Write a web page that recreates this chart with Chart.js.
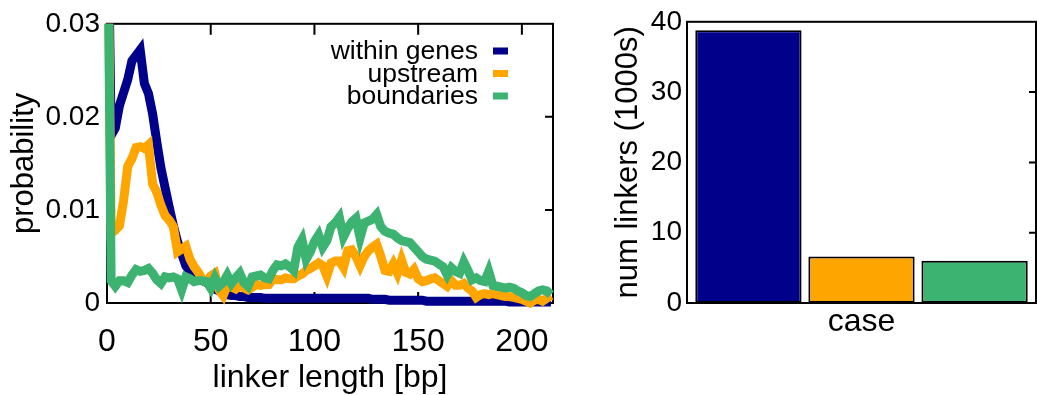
<!DOCTYPE html>
<html>
<head>
<meta charset="utf-8">
<script src="https://cdn.jsdelivr.net/npm/chart.js@4.4.1/dist/chart.umd.min.js"></script>
<style>
  html, body { margin: 0; padding: 0; background: #fff; }
  body { width: 1037px; height: 395px; position: relative; overflow: hidden; }
  canvas { position: absolute; top: 0; }
  #dist { left: 0; }
  #counts { left: 590px; }
</style>
</head>
<body>
<canvas id="dist" width="570" height="395"></canvas>
<canvas id="counts" width="447" height="395"></canvas>
<script>
// linker length (bp), x of the distribution plot
const lengths = [
  0, 2, 4, 6, 8, 10, 12, 14, 16, 18,
  20, 22, 24, 26, 28, 30, 32, 34, 36, 38,
  40, 42, 44, 46, 48, 50, 52, 54, 56, 58,
  60, 62, 64, 66, 68, 70, 72, 74, 76, 78,
  80, 82, 84, 86, 88, 90, 92, 94, 96, 98,
  100, 102, 104, 106, 108, 110, 112, 114, 116, 118,
  120, 122, 124, 126, 128, 130, 132, 134, 136, 138,
  140, 142, 144, 146, 148, 150, 152, 154, 156, 158,
  160, 162, 164, 166, 168, 170, 172, 174, 176, 178,
  180, 182, 184, 186, 188, 190, 192, 194, 196, 198,
  200, 202, 204, 206, 208, 210, 212, 214
]

const withinGenes = [
  0.05, 0.018, 0.0188, 0.0212, 0.0226, 0.0240, 0.0260, 0.0266, 0.0272, 0.0236,
  0.0225, 0.0203, 0.0173, 0.0145, 0.0124, 0.0103, 0.0083, 0.0066, 0.0053, 0.0040,
  0.0034, 0.0029, 0.0027, 0.0024, 0.0022, 0.0018, 0.0015, 0.0013, 0.0011, 0.0009,
  0.0008, 0.0008, 0.0007, 0.0007, 0.0006, 0.0006, 0.0006, 0.0006, 0.0005, 0.0005,
  0.0005, 0.0005, 0.0005, 0.0005, 0.0005, 0.0005, 0.0005, 0.0005, 0.0005, 0.0005,
  0.0005, 0.0005, 0.0005, 0.0005, 0.0005, 0.0005, 0.0005, 0.0005, 0.0005, 0.0005,
  0.0005, 0.0005, 0.0005, 0.0005, 0.0004, 0.0004, 0.0004, 0.0004, 0.0003, 0.0003,
  0.0003, 0.0003, 0.0003, 0.0003, 0.0003, 0.0003, 0.0003, 0.0002, 0.0002, 0.0002,
  0.0002, 0.0002, 0.0002, 0.0002, 0.0002, 0.0002, 0.0002, 0.0002, 0.0002, 0.0002,
  0.0002, 0.0002, 0.0002, 0.0002, 0.0002, 0.0002, 0.0002, 0.0001, 0.0001, 0.0001,
  0.0001, 0.0001, 0.0001, 0.0001, 0.0001, 0.0001, 0.0001, 0.0001
]

const upstream = [
  0.05, 0.0075, 0.0078, 0.0083, 0.0110, 0.0147, 0.0155, 0.0167, 0.0168, 0.0166,
  0.0170, 0.0128, 0.0119, 0.0105, 0.0094, 0.0089, 0.0082, 0.0055, 0.0058, 0.0061,
  0.0047, 0.0039, 0.0033, 0.0025, 0.0022, 0.0029, 0.0032, 0.0014, 0.0008, 0.0019,
  0.0017, 0.0015, 0.0019, 0.0016, 0.0014, 0.0017, 0.0020, 0.0019, 0.0020, 0.0020,
  0.0026, 0.0025, 0.0025, 0.0027, 0.0026, 0.0026, 0.0029, 0.0031, 0.0035, 0.0037,
  0.0040, 0.0043, 0.0040, 0.0029, 0.0043, 0.0045, 0.0045, 0.0038, 0.0056, 0.0057,
  0.0050, 0.0040, 0.0050, 0.0056, 0.0060, 0.0063, 0.0050, 0.0035, 0.0034, 0.0042,
  0.0032, 0.0046, 0.0033, 0.0031, 0.0036, 0.0026, 0.0023, 0.0024, 0.0026, 0.0027,
  0.0024, 0.0021, 0.0018, 0.0024, 0.0019, 0.0019, 0.0021, 0.0016, 0.0013, 0.0006,
  0.0009, 0.0010, 0.0009, 0.0010, 0.0009, 0.0008, 0.0007, 0.0007, 0.0006, 0.0005,
  0.0004, 0.0002, 0.0000, 0.0003, 0.0004, 0.0002, 0.0005, 0.0008
]

const boundaries = [
  0.05, 0.0024, 0.0018, 0.0024, 0.0024, 0.0022, 0.0030, 0.0036, 0.0034, 0.0035,
  0.0037, 0.0032, 0.0025, 0.0021, 0.0028, 0.0027, 0.0028, 0.0026, 0.0014, 0.0028,
  0.0026, 0.0023, 0.0024, 0.0024, 0.0023, 0.0016, 0.0027, 0.0018, 0.0022, 0.0030,
  0.0021, 0.0027, 0.0032, 0.0022, 0.0018, 0.0028, 0.0029, 0.0030, 0.0027, 0.0026,
  0.0035, 0.0041, 0.0040, 0.0042, 0.0039, 0.0035, 0.0060, 0.0068, 0.0047, 0.0055,
  0.0066, 0.0073, 0.0060, 0.0067, 0.0082, 0.0086, 0.0092, 0.0071, 0.0080, 0.0087,
  0.0091, 0.0070, 0.0086, 0.0088, 0.0090, 0.0095, 0.0082, 0.0077, 0.0075, 0.0074,
  0.0070, 0.0067, 0.0066, 0.0065, 0.0060, 0.0055, 0.0050, 0.0047, 0.0046, 0.0045,
  0.0042, 0.0039, 0.0030, 0.0038, 0.0034, 0.0032, 0.0044, 0.0035, 0.0025, 0.0027,
  0.0024, 0.0023, 0.0034, 0.0019, 0.0018, 0.0017, 0.0016, 0.0017, 0.0016, 0.0013,
  0.0011, 0.0008, 0.0007, 0.0010, 0.0013, 0.0014, 0.0013, 0.0009
]

const seriesNames = ["within genes", "upstream", "boundaries"]
const seriesColors = ["#00008b", "#ffa500", "#3cb371"]

// right panel: number of linkers, in thousands
const caseLabels = ["case"]
const linkerCounts = [38.8, 6.6, 6.0]

const xTickLabels = [0, 50, 100, 150, 200]
const probTicks = [0, 0.01, 0.02, 0.03]
const countTicks = [0, 10, 20, 30, 40]

Chart.defaults.font.family = '"Liberation Sans", Arial, sans-serif'
Chart.defaults.color = "#000"
Chart.defaults.animation = false

// box around the plot area with gnuplot style inward ticks
const frame = {
  id: "frame",
  beforeDatasetsDraw(chart, args, opts) {
    const { ctx, chartArea: a, scales } = chart
    ctx.save()
    ctx.strokeStyle = "#000"
    ctx.lineWidth = 2
    ctx.strokeRect(a.left, a.top, a.right - a.left, a.bottom - a.top)
    ctx.beginPath()
    if (opts.xTick) {
      scales.x.ticks.forEach((t) => {
        const px = scales.x.getPixelForValue(t.value)
        if (px <= a.left + 1 || px >= a.right - 1) return
        ctx.moveTo(px, a.bottom)
        ctx.lineTo(px, a.bottom - opts.xTick)
        ctx.moveTo(px, a.top)
        ctx.lineTo(px, a.top + opts.xTick)
      })
    }
    if (opts.yTick) {
      scales.y.ticks.forEach((t) => {
        const py = scales.y.getPixelForValue(t.value)
        if (py <= a.top + 1 || py >= a.bottom - 1) return
        if (opts.leftTicks) {
          ctx.moveTo(a.left, py)
          ctx.lineTo(a.left + opts.yTick, py)
        }
        ctx.moveTo(a.right, py)
        ctx.lineTo(a.right - opts.yTick, py)
      })
    }
    ctx.stroke()
    ctx.restore()
  },
}

// key inside the plot: label on the left, short colour bar on the right
const key = {
  id: "key",
  afterDatasetsDraw(chart, args, opts) {
    if (!opts.show) return
    const { ctx } = chart
    ctx.save()
    ctx.font = '26.5px "Liberation Sans", Arial, sans-serif'
    ctx.textAlign = "right"
    ctx.textBaseline = "middle"
    chart.data.datasets.forEach((ds, i) => {
      const y = 51 + i * 22.5
      ctx.fillStyle = "#000"
      ctx.fillText(ds.label, 478, y + 1)
      ctx.fillStyle = ds.borderColor
      ctx.fillRect(493, y - 3.5, 15, 7)
    })
    ctx.restore()
  },
}

const lineSets = [withinGenes, upstream, boundaries].map((vals, i) => ({
  label: seriesNames[i],
  data: lengths.map((x, j) => ({ x: x, y: vals[j] })),
  borderColor: seriesColors[i],
  backgroundColor: seriesColors[i],
  borderWidth: 9,
  pointRadius: 0,
  tension: 0,
  fill: false,
  order: 3 - i,
  clip: { left: 5, top: 0, right: 4, bottom: 5 },
}))

new Chart(document.getElementById("dist"), {
  type: "line",
  data: { datasets: lineSets },
  plugins: [frame, key],
  options: {
    responsive: false,
    layout: { padding: { top: 20, right: 17, left: 0, bottom: 0 } },
    plugins: {
      legend: { display: false },
      tooltip: { enabled: false },
      frame: { xTick: 11, yTick: 8, leftTicks: true },
      key: { show: true },
    },
    scales: {
      x: {
        type: "linear",
        min: 0,
        max: 215,
        afterFit: (s) => { s.height = 92 },
        afterBuildTicks: (s) => { s.ticks = xTickLabels.map((v) => ({ value: v })) },
        grid: { display: false, drawTicks: false },
        border: { display: false },
        ticks: { font: { size: 32 }, padding: 20, maxRotation: 0, autoSkip: false },
        title: { display: true, text: "linker length [bp]", font: { size: 32 }, padding: { top: 0, bottom: -2 } },
      },
      y: {
        min: 0,
        max: 0.03,
        afterFit: (s) => { s.width = 107 },
        afterBuildTicks: (s) => { s.ticks = probTicks.map((v) => ({ value: v })) },
        grid: { display: false, drawTicks: false },
        border: { display: false },
        ticks: {
          font: { size: 28 },
          padding: 7,
          autoSkip: false,
          callback: (v) => (v === 0 ? "0" : v.toFixed(2)),
        },
        title: { display: true, text: "probability", font: { size: 31 }, padding: { top: 6, bottom: 0 } },
      },
    },
  },
})

new Chart(document.getElementById("counts"), {
  type: "bar",
  data: {
    labels: caseLabels,
    datasets: linkerCounts.map((v, i) => ({
      label: seriesNames[i],
      data: [v],
      backgroundColor: seriesColors[i],
      borderColor: "#000",
      borderWidth: 2,
      borderSkipped: false,
      barPercentage: 0.94,
      categoryPercentage: 0.972,
    })),
  },
  plugins: [frame],
  options: {
    responsive: false,
    layout: { padding: { top: 20, right: 1, left: 0, bottom: 0 } },
    plugins: {
      legend: { display: false },
      tooltip: { enabled: false },
      frame: { yTick: 7, leftTicks: false },
    },
    scales: {
      x: {
        afterFit: (s) => { s.height = 92 },
        grid: { display: false, drawTicks: false },
        border: { display: false },
        ticks: { font: { size: 32 }, padding: 0 },
      },
      y: {
        min: 0,
        max: 40,
        afterFit: (s) => { s.width = 97 },
        afterBuildTicks: (s) => { s.ticks = countTicks.map((v) => ({ value: v })) },
        grid: { display: false, drawTicks: false },
        border: { display: false },
        ticks: { font: { size: 28 }, padding: 5, autoSkip: false },
        title: { display: true, text: "num linkers (1000s)", font: { size: 31 }, padding: { top: 20, bottom: 0 } },
      },
    },
  },
})
</script>
</body>
</html>
